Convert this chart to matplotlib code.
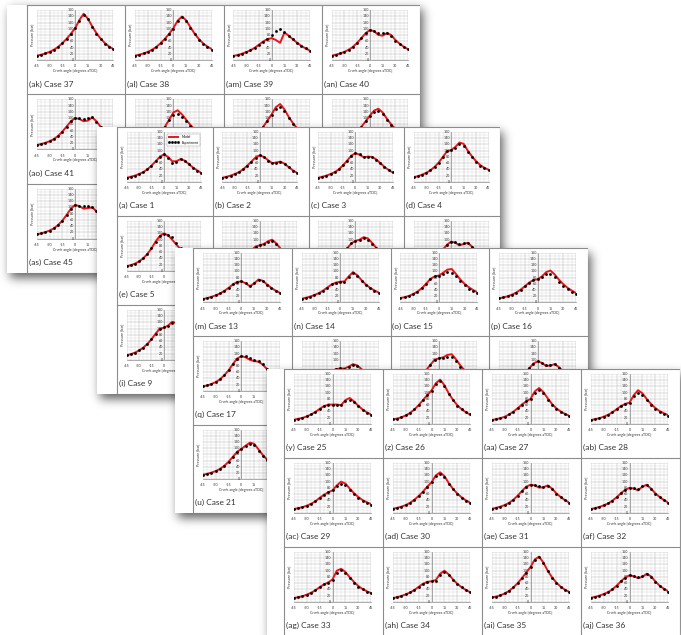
import numpy as np
import matplotlib.pyplot as plt
from matplotlib.patches import Rectangle

plt.rcParams['font.family'] = ['Lato', 'DejaVu Sans']

# crank angle grid shared by every case (degrees aTDC)
angles = list(range(-45, 50, 5))

# ---- cylinder pressure [bar]: model / experiment per case ----
model_37 = [14, 17, 21, 26, 33, 42, 54, 68, 84, 102, 128, 148, 132, 108, 86, 68, 54, 43, 35]
exp_37 = [14, 17, 21, 26, 33, 42, 54, 68, 84, 102, 126, 144, 130, 106, 84, 66, 52, 42, 34]
model_38 = [14, 17, 21, 26, 33, 42, 54, 68, 84, 102, 126, 139, 127, 105, 84, 67, 53, 43, 35]
exp_38 = [14, 17, 21, 26, 33, 42, 54, 68, 84, 100, 124, 138, 125, 102, 82, 65, 51, 41, 33]
model_39 = [13, 16, 20, 25, 31, 39, 49, 59, 67, 70, 64, 55, 88, 78, 66, 55, 45, 37, 30]
exp_39 = [13, 16, 20, 25, 31, 39, 49, 59, 68, 80, 93, 99, 90, 78, 66, 55, 45, 37, 30]
model_40 = [14, 17, 21, 26, 33, 42, 55, 70, 86, 96, 92, 80, 78, 86, 80, 64, 52, 42, 34]
exp_40 = [14, 17, 21, 26, 33, 42, 55, 70, 86, 97, 93, 88, 86, 86, 76, 62, 50, 41, 34]
model_41 = [14, 17, 21, 26, 33, 43, 57, 73, 90, 100, 97, 90, 92, 102, 90, 72, 57, 45, 36]
exp_41 = [14, 17, 21, 26, 33, 43, 57, 73, 90, 101, 99, 96, 100, 103, 88, 70, 55, 44, 35]
model_42 = [14, 17, 21, 26, 33, 43, 56, 72, 95, 118, 125, 112, 95, 78, 64, 53, 44, 37, 31]
exp_42 = [14, 17, 21, 26, 33, 43, 56, 72, 94, 110, 112, 104, 90, 75, 62, 51, 42, 35, 30]
model_43 = [14, 17, 21, 26, 33, 43, 56, 72, 92, 112, 135, 145, 128, 104, 84, 67, 54, 44, 36]
exp_43 = [14, 17, 21, 26, 33, 43, 56, 72, 91, 110, 128, 135, 122, 100, 81, 65, 52, 42, 35]
model_44 = [14, 17, 21, 26, 33, 43, 56, 72, 90, 108, 124, 130, 118, 98, 80, 65, 52, 43, 35]
exp_44 = [14, 17, 21, 26, 33, 43, 56, 72, 90, 106, 118, 122, 112, 94, 77, 62, 50, 41, 34]
model_45 = [14, 17, 21, 26, 33, 44, 58, 76, 96, 108, 104, 96, 98, 100, 88, 72, 57, 46, 37]
exp_45 = [14, 17, 21, 26, 33, 44, 58, 76, 96, 108, 106, 104, 104, 102, 90, 72, 57, 46, 37]

model_1 = [13, 16, 20, 25, 31, 40, 52, 66, 80, 88, 80, 66, 66, 73, 68, 57, 46, 37, 29]
exp_1 = [13, 16, 20, 25, 31, 40, 52, 66, 80, 88, 78, 62, 64, 72, 67, 56, 45, 36, 28]
model_2 = [13, 16, 20, 25, 31, 40, 52, 65, 78, 85, 80, 70, 60, 62, 65, 58, 47, 37, 29]
exp_2 = [13, 16, 20, 25, 31, 40, 52, 65, 78, 85, 79, 68, 59, 61, 64, 57, 46, 36, 28]
model_3 = [13, 16, 20, 25, 31, 40, 53, 68, 84, 92, 87, 79, 81, 80, 72, 60, 48, 38, 30]
exp_3 = [13, 16, 20, 25, 31, 40, 53, 68, 84, 92, 88, 80, 80, 79, 71, 59, 47, 38, 30]
model_4 = [15, 18, 23, 29, 37, 48, 62, 80, 98, 102, 112, 126, 122, 100, 82, 66, 54, 45, 39]
exp_4 = [15, 18, 23, 29, 37, 48, 62, 80, 98, 102, 110, 120, 116, 96, 79, 63, 52, 43, 37]
model_5 = [15, 18, 23, 30, 40, 54, 72, 94, 112, 120, 114, 100, 84, 70, 58, 49, 42, 36, 31]
exp_5 = [15, 18, 23, 30, 40, 54, 72, 94, 112, 118, 116, 108, 90, 74, 60, 50, 42, 36, 31]
model_6 = [13, 16, 20, 25, 31, 40, 52, 66, 78, 82, 86, 95, 100, 88, 72, 58, 47, 38, 31]
exp_6 = [13, 16, 20, 25, 31, 40, 52, 66, 78, 82, 85, 92, 96, 86, 70, 57, 46, 37, 30]
model_7 = [14, 17, 21, 26, 33, 43, 56, 72, 88, 96, 100, 108, 104, 90, 74, 60, 49, 40, 33]
exp_7 = [14, 17, 21, 26, 33, 43, 56, 72, 88, 95, 99, 104, 100, 87, 72, 58, 48, 39, 32]
model_8 = [13, 16, 20, 25, 31, 40, 53, 68, 84, 94, 90, 82, 86, 90, 78, 63, 50, 40, 32]
exp_8 = [13, 16, 20, 25, 31, 40, 53, 68, 84, 94, 91, 87, 88, 89, 77, 62, 49, 39, 31]
model_9 = [15, 18, 23, 30, 39, 51, 66, 84, 100, 103, 110, 122, 118, 98, 80, 65, 53, 44, 37]
exp_9 = [15, 18, 23, 30, 39, 51, 66, 84, 100, 104, 108, 118, 114, 95, 78, 63, 52, 43, 36]

model_13 = [11, 14, 18, 23, 29, 37, 47, 58, 66, 68, 62, 52, 62, 74, 70, 58, 47, 38, 31]
exp_13 = [11, 14, 18, 23, 29, 37, 47, 58, 66, 68, 63, 54, 64, 73, 69, 57, 46, 37, 30]
model_14 = [12, 15, 19, 24, 30, 38, 48, 58, 64, 67, 68, 84, 98, 88, 72, 58, 47, 39, 32]
exp_14 = [12, 15, 19, 24, 30, 38, 48, 58, 64, 66, 67, 82, 95, 86, 70, 57, 46, 38, 31]
model_15 = [14, 17, 21, 27, 35, 46, 60, 76, 84, 87, 96, 106, 108, 92, 74, 60, 49, 40, 33]
exp_15 = [14, 17, 21, 27, 35, 46, 60, 76, 84, 87, 93, 97, 95, 84, 68, 55, 44, 36, 30]
model_16 = [13, 16, 20, 25, 32, 41, 52, 64, 72, 75, 84, 98, 103, 90, 73, 59, 47, 38, 30]
exp_16 = [13, 16, 20, 25, 32, 41, 52, 64, 72, 75, 82, 92, 93, 82, 67, 53, 42, 34, 27]
model_17 = [14, 17, 22, 28, 37, 50, 66, 86, 104, 112, 108, 100, 96, 94, 84, 70, 56, 46, 37]
exp_17 = [14, 17, 22, 28, 37, 50, 66, 86, 104, 114, 114, 106, 98, 96, 86, 71, 57, 46, 37]
model_18 = [13, 16, 20, 25, 31, 40, 51, 62, 70, 72, 72, 78, 86, 82, 70, 57, 46, 37, 30]
exp_18 = [13, 16, 20, 25, 31, 40, 51, 62, 70, 72, 71, 76, 82, 80, 68, 56, 45, 36, 29]
model_19 = [15, 18, 23, 29, 38, 50, 66, 84, 100, 105, 108, 116, 118, 102, 82, 66, 53, 43, 35]
exp_19 = [15, 18, 23, 29, 38, 50, 66, 84, 100, 105, 107, 110, 110, 96, 78, 63, 51, 41, 34]
model_20 = [14, 17, 21, 26, 33, 43, 56, 72, 88, 95, 90, 80, 82, 86, 76, 62, 50, 40, 32]
exp_20 = [14, 17, 21, 26, 33, 43, 56, 72, 88, 95, 91, 84, 83, 85, 75, 61, 49, 39, 31]
model_21 = [14, 17, 21, 26, 33, 43, 56, 72, 88, 98, 108, 118, 114, 96, 78, 63, 51, 42, 34]
exp_21 = [14, 17, 21, 26, 33, 43, 56, 72, 88, 98, 106, 114, 110, 92, 75, 61, 49, 40, 33]

model_25 = [13, 16, 19, 24, 30, 38, 48, 57, 61, 62, 62, 60, 76, 83, 72, 58, 46, 37, 30]
exp_25 = [13, 16, 19, 24, 30, 38, 48, 57, 61, 62, 62, 62, 72, 78, 70, 57, 45, 36, 29]
model_26 = [14, 17, 21, 27, 35, 46, 60, 76, 92, 107, 130, 142, 124, 98, 77, 60, 47, 37, 30]
exp_26 = [14, 17, 21, 27, 35, 46, 60, 76, 92, 106, 128, 138, 122, 96, 75, 58, 46, 37, 30]
model_27 = [12, 15, 18, 23, 30, 39, 50, 62, 72, 80, 104, 115, 102, 82, 64, 50, 40, 32, 26]
exp_27 = [12, 15, 18, 23, 30, 39, 50, 62, 72, 80, 100, 110, 98, 78, 61, 48, 38, 30, 24]
model_28 = [12, 15, 18, 23, 29, 37, 47, 57, 64, 68, 92, 108, 98, 80, 64, 51, 41, 34, 28]
exp_28 = [12, 15, 18, 23, 29, 37, 47, 57, 64, 68, 88, 100, 92, 75, 60, 47, 37, 30, 25]
model_29 = [12, 15, 18, 23, 29, 37, 48, 58, 66, 72, 88, 100, 94, 78, 63, 51, 41, 34, 28]
exp_29 = [12, 15, 18, 23, 29, 37, 48, 58, 66, 72, 85, 92, 88, 74, 60, 48, 39, 32, 26]
model_30 = [13, 16, 20, 25, 32, 42, 54, 68, 84, 98, 120, 130, 118, 96, 77, 62, 50, 40, 33]
exp_30 = [13, 16, 20, 25, 32, 42, 54, 68, 84, 98, 117, 125, 114, 93, 75, 60, 48, 39, 32]
model_31 = [13, 16, 20, 25, 32, 42, 55, 70, 84, 90, 88, 81, 82, 88, 78, 63, 51, 41, 33]
exp_31 = [13, 16, 20, 25, 32, 42, 55, 70, 84, 90, 88, 85, 84, 86, 76, 62, 50, 40, 32]
model_32 = [12, 15, 19, 24, 30, 39, 50, 63, 74, 80, 78, 72, 84, 90, 78, 63, 51, 41, 33]
exp_32 = [12, 15, 19, 24, 30, 39, 50, 63, 74, 80, 79, 76, 86, 88, 77, 62, 50, 40, 32]
model_33 = [12, 15, 18, 23, 29, 37, 47, 56, 62, 72, 100, 106, 96, 79, 64, 51, 41, 34, 28]
exp_33 = [12, 15, 18, 23, 29, 37, 47, 56, 62, 70, 94, 102, 92, 76, 62, 49, 40, 33, 27]
model_34 = [12, 15, 19, 24, 30, 38, 48, 58, 64, 66, 70, 90, 100, 88, 72, 58, 47, 38, 31]
exp_34 = [12, 15, 19, 24, 30, 38, 48, 58, 64, 66, 68, 86, 95, 85, 70, 57, 46, 37, 30]
model_35 = [14, 17, 21, 27, 35, 46, 60, 76, 94, 112, 136, 145, 126, 100, 79, 62, 49, 39, 32]
exp_35 = [14, 17, 21, 27, 35, 46, 60, 76, 94, 112, 134, 143, 124, 98, 77, 61, 48, 38, 31]
model_36 = [13, 16, 20, 25, 31, 40, 52, 66, 78, 85, 82, 76, 80, 90, 82, 66, 52, 42, 34]
exp_36 = [13, 16, 20, 25, 31, 40, 52, 66, 78, 85, 83, 80, 82, 88, 80, 65, 51, 41, 33]

curves = {
    1: (model_1, exp_1), 2: (model_2, exp_2), 3: (model_3, exp_3), 4: (model_4, exp_4),
    5: (model_5, exp_5), 6: (model_6, exp_6), 7: (model_7, exp_7), 8: (model_8, exp_8),
    9: (model_9, exp_9),
    13: (model_13, exp_13), 14: (model_14, exp_14), 15: (model_15, exp_15), 16: (model_16, exp_16),
    17: (model_17, exp_17), 18: (model_18, exp_18), 19: (model_19, exp_19), 20: (model_20, exp_20),
    21: (model_21, exp_21),
    25: (model_25, exp_25), 26: (model_26, exp_26), 27: (model_27, exp_27), 28: (model_28, exp_28),
    29: (model_29, exp_29), 30: (model_30, exp_30), 31: (model_31, exp_31), 32: (model_32, exp_32),
    33: (model_33, exp_33), 34: (model_34, exp_34), 35: (model_35, exp_35), 36: (model_36, exp_36),
    37: (model_37, exp_37), 38: (model_38, exp_38), 39: (model_39, exp_39), 40: (model_40, exp_40),
    41: (model_41, exp_41), 42: (model_42, exp_42), 43: (model_43, exp_43), 44: (model_44, exp_44),
    45: (model_45, exp_45),
}

# sub-figure letters, one list per sheet (row by row, 4 per row)
letters_p1 = ['ak', 'al', 'am', 'an', 'ao', 'ap', 'aq', 'ar', 'as']
letters_p2 = ['a', 'b', 'c', 'd', 'e', 'f', 'g', 'h', 'i']
letters_p3 = ['m', 'n', 'o', 'p', 'q', 'r', 's', 't', 'u']
letters_p4 = ['y', 'z', 'aa', 'ab', 'ac', 'ad', 'ae', 'af', 'ag', 'ah', 'ai', 'aj']
cases_p1 = [37, 38, 39, 40, 41, 42, 43, 44, 45]
cases_p2 = [1, 2, 3, 4, 5, 6, 7, 8, 9]
cases_p3 = [13, 14, 15, 16, 17, 18, 19, 20, 21]
cases_p4 = [25, 26, 27, 28, 29, 30, 31, 32, 33, 34, 35, 36]

# sheet geometry in pixels: left, top, right, bottom, grid left
sheets = [
    ((7, 5, 420, 273, 27), letters_p1, cases_p1),
    ((97, 127, 500, 394, 117), letters_p2, cases_p2),
    ((175, 248, 588, 513, 193), letters_p3, cases_p3),
    ((267, 369, 680, 636, 284), letters_p4, cases_p4),
]

W, H = 681, 635
fig = plt.figure(figsize=(W / 100, H / 100), dpi=100)
fig.patch.set_facecolor('white')

TXT = '#333333'
FS = 2.6


def fig_rect(x, y, w, h):
    return [x / W, 1 - (y + h) / H, w / W, h / H]


def covered(x, y, k):
    # True when pixel (x, y) lies under a sheet stacked above sheet k
    for (l, t, r, b, _), _, _ in sheets[k + 1:]:
        if l - 3 <= x <= r and t - 3 <= y <= b:
            return True
    return False


def blur1d(a, sigma, axis):
    r = int(3 * sigma)
    k = np.exp(-0.5 * (np.arange(-r, r + 1) / sigma) ** 2)
    k /= k.sum()
    return np.apply_along_axis(lambda v: np.convolve(v, k, mode='same'), axis, a)


def add_shadow(left, top, right, bottom, z):
    pad, off = 22, (3, 5)
    w, h = right - left, bottom - top
    mask = np.zeros((h + 2 * pad, w + 2 * pad))
    mask[pad + off[1]:pad + off[1] + h, pad + off[0]:pad + off[0] + w] = 1
    mask = blur1d(blur1d(mask, 5, 0), 5, 1)
    rgba = np.zeros(mask.shape + (4,))
    rgba[..., 3] = mask * 0.62
    ax = fig.add_axes(fig_rect(left - pad, top - pad, w + 2 * pad, h + 2 * pad), zorder=z)
    ax.imshow(rgba, aspect='auto', interpolation='bilinear')
    ax.set_axis_off()


def draw_panel(ax, box, k, model, exp, legend=False):
    x0, y0, w, h = box

    def put(xd, yd, s, **kw):
        px = x0 + (xd + 45) / 90 * w
        py = y0 + (160 - yd) / 160 * h
        if not covered(px, py, k):
            ax.text(xd, yd, s, fontsize=FS, color=TXT, clip_on=False, **kw)

    ax.set_xlim(-45, 45)
    ax.set_ylim(0, 160)
    ax.set_xticks(range(-45, 46, 15))
    ax.set_xticks(range(-45, 46, 5), minor=True)
    ax.set_yticks(range(0, 161, 20))
    ax.set_yticks(range(0, 161, 10), minor=True)
    ax.grid(which='major', color='#b4b4b4', lw=0.35)
    ax.grid(which='minor', color='#d6d6d6', lw=0.3)
    ax.set_axisbelow(True)
    for s in ['left', 'right', 'top']:
        ax.spines[s].set_visible(False)
    ax.spines['bottom'].set_color('#8a8a8a')
    ax.spines['bottom'].set_linewidth(0.5)
    ax.axvline(0, color='#8a8a8a', lw=0.5, zorder=1)
    ax.tick_params(which='both', length=0, labelleft=False, labelbottom=False)

    for v in range(0, 161, 20):
        put(-1.2, v, str(v), ha='right', va='center')
    for v in range(-45, 46, 15):
        put(v, -20, str(v), ha='center', va='center')
    put(0, -35, 'Crank angle [degrees aTDC]', ha='center', va='center')
    put(-50, 80, 'Pressure [bar]', ha='center', va='center', rotation=90)

    ax.plot(angles, model, color='#e8161b', lw=1.4, label='Model', zorder=3)
    ax.plot(angles, exp, ls='none', marker='s', ms=0.9, color='black',
            label='Experiment', zorder=4)
    if legend:
        ax.legend(loc='upper right', fontsize=2.4, numpoints=4, handlelength=3.2,
                  borderpad=0.4, labelspacing=0.5, fancybox=False, edgecolor='#999999',
                  framealpha=1).get_frame().set_linewidth(0.3)


for k, ((left, top, right, bottom, gl), letters, cases) in enumerate(sheets):
    z = 10 * (k + 1)
    add_shadow(left, top, right, bottom, z - 1)
    w, h = right - left, bottom - top
    page = fig.add_axes(fig_rect(left, top, w, h), zorder=z)
    page.set_xlim(0, w)
    page.set_ylim(h, 0)
    page.set_axis_off()
    page.add_patch(Rectangle((0, 0), w, h, facecolor='white', edgecolor='none', clip_on=False))
    cw = (right - gl) / 4
    ch = h / 3
    gx = gl - left
    for i in range(5):
        page.plot([gx + i * cw] * 2, [0, h], color='#8c8c8c', lw=0.8)
    for j in range(4):
        page.plot([gx, w], [j * ch] * 2, color='#8c8c8c', lw=0.8)

    for n, (let, case) in enumerate(zip(letters, cases)):
        r, c = divmod(n, 4)
        cx = gl + c * cw
        cy = top + r * ch
        ly = cy + 0.885 * ch
        if not covered(cx + 2, ly, k):
            page.text(cx - left + 2, ly - top, f'({let}) Case {case}',
                      fontsize=6, va='center', ha='left', color=TXT)
        box = (cx + 0.10 * cw, cy + 0.056 * ch, 0.78 * cw, 0.56 * ch)
        ax = fig.add_axes(fig_rect(*box), zorder=z + 1)
        model, exp = curves[case]
        draw_panel(ax, box, k, model, exp, legend=(case == 1))

fig.savefig('out.png', dpi=100, facecolor='white')
